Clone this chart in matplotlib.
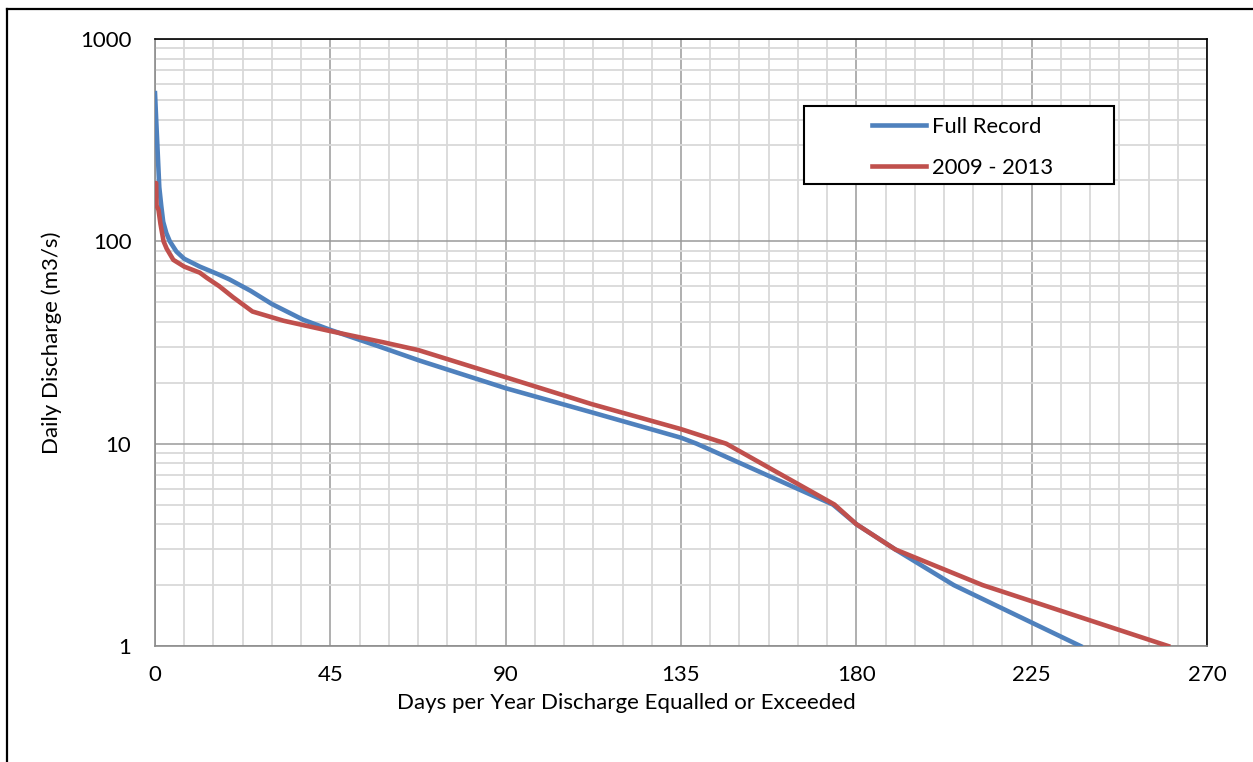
import numpy as np
import matplotlib
matplotlib.use('Agg')
import matplotlib.pyplot as plt
from matplotlib.ticker import MultipleLocator, LogLocator, FixedLocator, NullFormatter
from matplotlib.lines import Line2D
from matplotlib.patches import Rectangle

# Lato is the nearest installed match for Calibri
plt.rcParams['font.family'] = ['Lato', 'DejaVu Sans']

# flow duration curves
full_days = [0, 0.3, 0.6, 1.1, 1.6, 2.1, 2.9, 3.8, 5.5, 7.5, 11.5, 16,
             19, 24.5, 30, 38, 45, 58, 68, 90, 112, 135, 139, 174, 180,
             190, 205, 237.5]
full_flow = [540, 400, 300, 185, 150, 125, 110, 100, 89, 82, 75, 69,
             65, 57, 49, 41, 36.5, 30, 25.7, 18.8, 14.3, 10.7, 10, 5, 4,
             3, 2, 1]

recent_days = [0, 0.3, 0.4, 0.9, 1.4, 2.2, 3.0, 4.7, 7.5, 11.5, 13.3,
               16.5, 20, 25, 33, 45, 58.6, 67.6, 90, 112, 135, 146.6,
               174.4, 180, 190, 212.4, 260]
recent_flow = [194, 194, 150, 143, 122, 100, 92, 81, 75, 70, 66,
               60, 53, 45, 40.5, 36, 31.7, 29, 21.3, 15.7, 11.8, 10,
               5, 4, 3, 2, 1]

series_names = ['Full Record', '2009 - 2013']
x_ticks = [0, 45, 90, 135, 180, 225, 270]
y_ticks = [1, 10, 100, 1000]

blue = '#4F81BD'
red = '#C0504D'

W, H = 1253.0, 762.0
fig = plt.figure(figsize=(12.53, 7.62), dpi=100)
ax = fig.add_axes([155 / W, 1 - 646 / H, 1052 / W, 607 / H])

ax.plot(full_days, full_flow, color=blue, lw=3.3, label=series_names[0],
        solid_joinstyle='round', zorder=3)
ax.plot(recent_days, recent_flow, color=red, lw=3.3, label=series_names[1],
        solid_joinstyle='round', zorder=3)

ax.set_yscale('log')
ax.set_xlim(0, 270)
ax.set_ylim(1, 1000)
ax.xaxis.set_major_locator(FixedLocator(x_ticks))
ax.xaxis.set_minor_locator(MultipleLocator(7.5))
ax.yaxis.set_major_locator(FixedLocator(y_ticks))
ax.yaxis.set_minor_locator(LogLocator(base=10, subs=np.arange(2, 10)))
ax.yaxis.set_minor_formatter(NullFormatter())
ax.set_yticklabels([str(v) for v in y_ticks])
ax.set_xticklabels([str(v) for v in x_ticks])

ax.grid(which='major', color='#9A9A9A', lw=1.1, zorder=1)
ax.grid(which='minor', color='#D9D9D9', lw=1.3, zorder=0)
ax.set_axisbelow(True)

ax.tick_params(which='both', length=0, labelsize=16, colors='black')
ax.tick_params(axis='y', pad=17)
ax.tick_params(axis='x', pad=14)

ax.spines['left'].set_color('#8C8C8C')
ax.spines['bottom'].set_color('#8C8C8C')
ax.spines['top'].set_color('black')
ax.spines['right'].set_color('black')
for s in ax.spines.values():
    s.set_linewidth(1.2)

ax.set_xlabel('Days per Year Discharge Equalled or Exceeded', fontsize=16,
              va='center')
ax.xaxis.set_label_coords((626 - 155) / 1052, -(703 - 646) / 607)
ax.set_ylabel('Daily Discharge (m3/s)', fontsize=16, va='center')
ax.yaxis.set_label_coords(-(155 - 52) / 1052, 0.5)

# legend box as in the original: wide frame, entries on the right
box = Rectangle((804 / W, 1 - 184 / H), 310 / W, 78 / H, transform=fig.transFigure,
                facecolor='white', edgecolor='black', lw=1.5, zorder=5,
                clip_on=False)
ax.add_patch(box)
leg = ax.legend(loc='upper left', bbox_to_anchor=(852 / W, 1 - 97 / H),
                bbox_transform=fig.transFigure, frameon=False, fontsize=15.8,
                handlelength=2.45, handletextpad=0.3, labelspacing=0.95)
leg.set_zorder(6)

# outer chart border (left and top visible)
fig.add_artist(Line2D([7 / W, 7 / W], [0, 1 - 9 / H], color='black', lw=1.6,
                      transform=fig.transFigure))
fig.add_artist(Line2D([7 / W, 1], [1 - 9 / H, 1 - 9 / H], color='black', lw=1.6,
                      transform=fig.transFigure))

fig.savefig('out.png', dpi=100)
